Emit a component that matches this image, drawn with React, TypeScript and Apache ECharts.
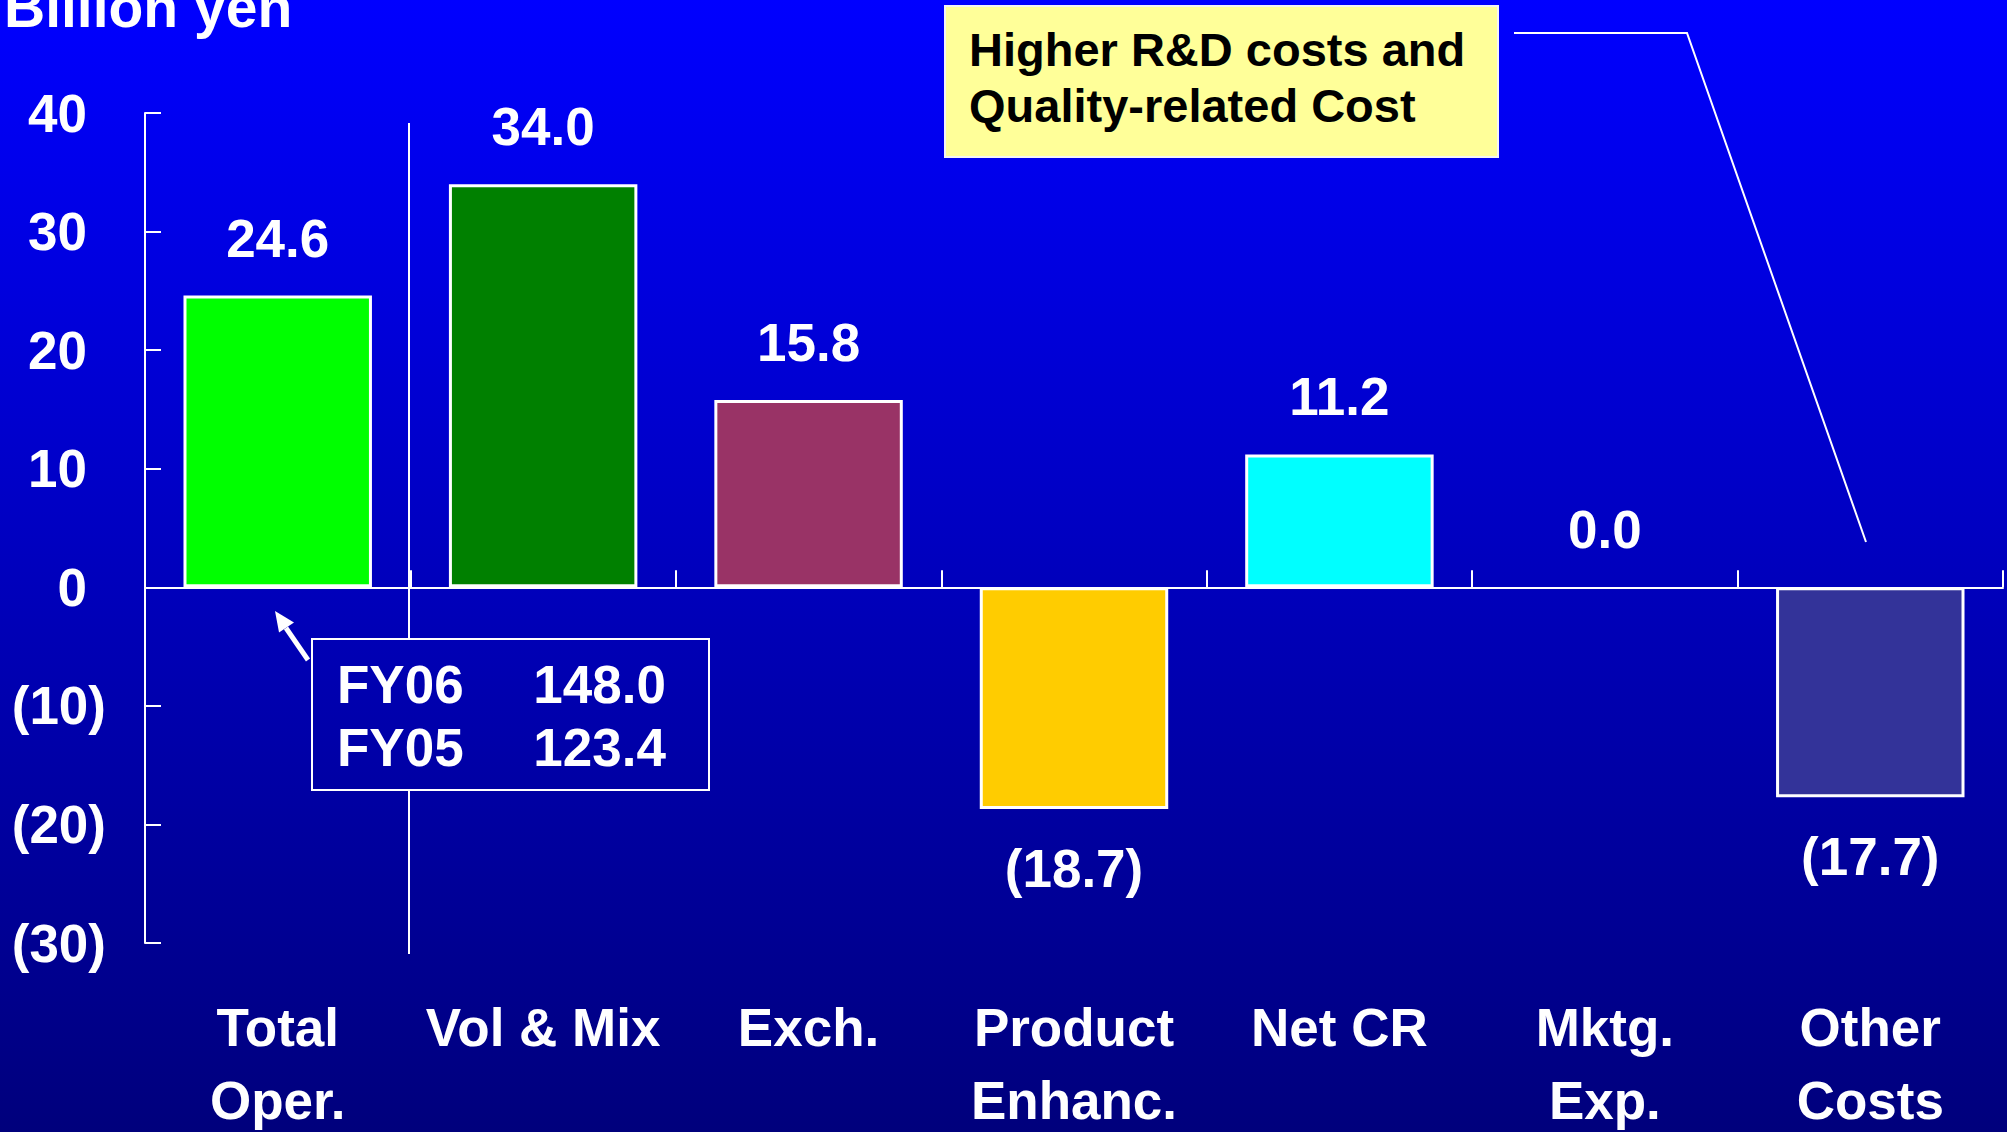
import React, { useEffect, useRef } from "react";
import * as echarts from "echarts";

// Operating income change factors, billion yen
const categories = ["Total\nOper.", "Vol & Mix", "Exch.", "Product\nEnhanc.", "Net CR", "Mktg.\nExp.", "Other\nCosts"];
const values = [24.6, 34.0, 15.8, -18.7, 11.2, 0.0, -17.7];
const barColors = ["#00FF00", "#008000", "#993366", "#FFCC00", "#00FFFF", "#3366FF", "#333399"];

const yMin = -30;
const yMax = 40;
const yStep = 10;

const unitLabel = "Billion yen";
const totalsRows = [
  ["FY06", "148.0"],
  ["FY05", "123.4"],
];
const noteLines = ["Higher R&D costs and", "Quality-related Cost"];

const FONT = '"Liberation Sans", Arial, Helvetica, sans-serif';

const fmt = (v: number, digits: number) =>
  v < 0 ? `(${(-v).toFixed(digits)})` : v.toFixed(digits);

export default function App() {
  const ref = useRef<HTMLDivElement>(null);

  useEffect(() => {
    if (!ref.current) return;
    const chart = echarts.init(ref.current, null, { renderer: "svg" });

    const white = "#FFFFFF";

    const option: any = {
      animation: false,
      backgroundColor: new echarts.graphic.LinearGradient(0, 0, 0, 1, [
        { offset: 0, color: "#0000FF" },
        { offset: 1, color: "#00007C" },
      ]),
      grid: {
        left: 145,
        right: 4,
        top: 113,
        bottom: 189,
        containLabel: false,
        outerBoundsMode: "none",
      },
      xAxis: {
        type: "category",
        data: categories,
        axisLine: { show: true, onZero: true, lineStyle: { color: white, width: 2 } },
        axisTick: { show: true, inside: true, length: 17, lineStyle: { color: white, width: 2 } },
        axisLabel: {
          margin: 48,
          color: white,
          fontFamily: FONT,
          fontWeight: "bold",
          fontSize: 53,
          lineHeight: 73,
          interval: 0,
        },
        splitLine: { show: false },
      },
      yAxis: {
        type: "value",
        min: yMin,
        max: yMax,
        interval: yStep,
        axisLine: { show: true, onZero: false, lineStyle: { color: white, width: 2 } },
        axisTick: { show: true, inside: true, length: 16, lineStyle: { color: white, width: 2 } },
        splitLine: { show: false },
        axisLabel: {
          margin: 39,
          color: white,
          fontFamily: FONT,
          fontWeight: "bold",
          fontSize: 53,
          formatter: (v: number) => (v < 0 ? `{neg|(${-v})}` : `{pos|${v}}`),
          rich: {
            neg: { color: white, fontFamily: FONT, fontWeight: "bold", fontSize: 53 },
            pos: { color: white, fontFamily: FONT, fontWeight: "bold", fontSize: 53, padding: [0, 19, 0, 0] },
          },
        },
      },
      series: [
        {
          type: "bar",
          barWidth: "71%",
          data: values.map((v, i) => ({
            value: v,
            itemStyle: { color: barColors[i], borderColor: white, borderWidth: v === 0 ? 0 : 3 },
            label: { position: v < 0 ? "bottom" : "top", distance: v < 0 ? 33 : 31 },
          })),
          label: {
            show: true,
            color: white,
            fontFamily: FONT,
            fontWeight: "bold",
            fontSize: 53,
            lineHeight: 53,
            formatter: (p: any) => fmt(p.value, 1),
          },
        },
      ],
      graphic: [
        // unit caption
        {
          type: "text",
          left: 4,
          top: -22,
          style: {
            text: unitLabel,
            fill: white,
            fontFamily: FONT,
            fontWeight: "bold",
            fontSize: 57,
          },
        },
        // divider between the total and the factors
        {
          type: "line",
          shape: { x1: 409, y1: 123, x2: 409, y2: 639 },
          style: { stroke: white, lineWidth: 2 },
        },
        {
          type: "line",
          shape: { x1: 409, y1: 790, x2: 409, y2: 954 },
          style: { stroke: white, lineWidth: 2 },
        },
        // totals box
        {
          type: "rect",
          shape: { x: 312, y: 639, width: 397, height: 151 },
          style: { fill: "none", stroke: white, lineWidth: 2 },
        },
        ...totalsRows.flatMap((row, i) => [
          {
            type: "text",
            x: 337,
            y: 684 + i * 63,
            style: {
              text: row[0],
              fill: white,
              fontFamily: FONT,
              fontWeight: "bold",
              fontSize: 53,
              align: "left",
              verticalAlign: "middle",
            },
          },
          {
            type: "text",
            x: 666,
            y: 684 + i * 63,
            style: {
              text: row[1],
              fill: white,
              fontFamily: FONT,
              fontWeight: "bold",
              fontSize: 53,
              align: "right",
              verticalAlign: "middle",
            },
          },
        ]),
        // arrow pointing at the total bar
        {
          type: "line",
          shape: { x1: 308, y1: 660, x2: 286, y2: 628 },
          style: { stroke: white, lineWidth: 5 },
        },
        {
          type: "polygon",
          shape: { points: [[275, 611], [294, 622.6], [279, 632.6]] },
          style: { fill: white },
        },
        // note box
        {
          type: "rect",
          shape: { x: 945, y: 6, width: 553, height: 151 },
          style: { fill: "#FFFF99", stroke: "#F4F4F4", lineWidth: 2 },
        },
        ...noteLines.map((t, i) => ({
          type: "text",
          x: 969,
          y: 49 + i * 56,
          style: {
            text: t,
            fill: "#000000",
            fontFamily: FONT,
            fontWeight: "bold",
            fontSize: 47,
            align: "left",
            verticalAlign: "middle",
          },
        })),
        // leader from the note to the other costs bar
        {
          type: "polyline",
          shape: { points: [[1514, 33], [1687, 33], [1866, 542]] },
          style: { stroke: white, lineWidth: 2, fill: "none" },
        },
      ],
    };

    chart.setOption(option);
    return () => chart.dispose();
  }, []);

  return (
    <div
      ref={ref}
      style={{ position: "fixed", left: 0, top: 0, width: 2007, height: 1132 }}
    />
  );
}
